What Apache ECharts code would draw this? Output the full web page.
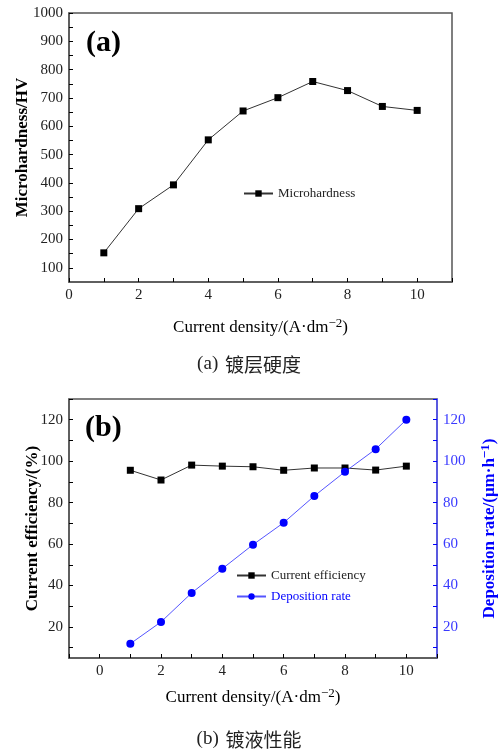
<!DOCTYPE html>
<html>
<head>
<meta charset="utf-8">
<script src="https://cdn.jsdelivr.net/npm/echarts@6/dist/echarts.min.js"></script>
<style>
html,body{margin:0;padding:0;background:#fff;}
#chart{width:498px;height:753px;}
</style>
</head>
<body>
<div id="chart"></div>
<script>
// ---- data ----
const currentDensity = [1, 2, 3, 4, 5, 6, 7, 8, 9, 10];
const microhardness = [153, 309, 393, 552, 654, 701, 758, 726, 670, 656];
const currentEfficiency = [95.6, 90.9, 98.1, 97.6, 97.3, 95.6, 96.7, 96.7, 95.7, 97.6];
const depositionRate = [11.9, 22.4, 36.4, 48.1, 59.7, 70.3, 83.2, 94.9, 105.8, 120];

const xTicksA = [0, 1, 2, 3, 4, 5, 6, 7, 8, 9, 10, 11];
const xLabelsA = [0, 2, 4, 6, 8, 10];
const yTicksA = [100, 150, 200, 250, 300, 350, 400, 450, 500, 550, 600, 650, 700, 750, 800, 850, 900, 950, 1000];
const yLabelsA = [100, 200, 300, 400, 500, 600, 700, 800, 900, 1000];
const xTicksB = [-1, 0, 1, 2, 3, 4, 5, 6, 7, 8, 9, 10, 11];
const xLabelsB = [0, 2, 4, 6, 8, 10];
const yTicksB = [10, 20, 30, 40, 50, 60, 70, 80, 90, 100, 110, 120, 130];
const yLabelsB = [20, 40, 60, 80, 100, 120];

const SERIF = '"Times New Roman","Liberation Serif","DejaVu Serif",serif';
const CJK = '"Noto Sans CJK SC",sans-serif';
const AX = '#555555';
const BLUE = '#0000ff';
const BLUE_T = '#3a3aff';

const chart = echarts.init(document.getElementById('chart'), null, {renderer: 'canvas'});

function pairs(xs, ys) { return xs.map((x, i) => [x, ys[i]]); }
const plain = v => String(v);

function supRich(color, weight) {
  return {
    sup: {fontFamily: SERIF, fontSize: 13, fontWeight: weight || 'normal', color: color, verticalAlign: 'top', lineHeight: 22, padding: [0, 0, 6, 0]}
  };
}

const option = {
  animation: false,
  backgroundColor: '#fff',
  grid: [
    {left: 69, top: 13, width: 383, height: 269, containLabel: false, outerBoundsMode: 'none',
      show: true, borderColor: AX, borderWidth: 1.5, backgroundColor: 'transparent'},
    {left: 69, top: 399, width: 368, height: 259, containLabel: false, outerBoundsMode: 'none',
      show: true, borderColor: AX, borderWidth: 1.5, backgroundColor: 'transparent'}
  ],
  xAxis: [
    {
      type: 'value', gridIndex: 0, min: 0, max: 11,
      axisLine: {show: true, onZero: false, lineStyle: {color: AX, width: 1.5}},
      axisTick: {show: true, inside: true, length: 4, customValues: xTicksA, lineStyle: {color: '#000'}},
      axisLabel: {customValues: xLabelsA, formatter: plain, fontFamily: SERIF, fontSize: 15, color: '#222', margin: 6},
      splitLine: {show: false},
      name: 'Current density/(A·dm{sup|−2})',
      nameLocation: 'middle', nameGap: 35,
      nameTextStyle: {fontFamily: SERIF, fontSize: 17, color: '#000', rich: supRich('#000')}
    },
    {
      type: 'value', gridIndex: 1, min: -1, max: 11,
      axisLine: {show: true, onZero: false, lineStyle: {color: AX, width: 1.5}},
      axisTick: {show: true, inside: true, length: 4, customValues: xTicksB, lineStyle: {color: '#000'}},
      axisLabel: {customValues: xLabelsB, formatter: plain, fontFamily: SERIF, fontSize: 15, color: '#222', margin: 6},
      splitLine: {show: false},
      name: 'Current density/(A·dm{sup|−2})',
      nameLocation: 'middle', nameGap: 29,
      nameTextStyle: {fontFamily: SERIF, fontSize: 17, color: '#000', rich: supRich('#000')}
    }
  ],
  yAxis: [
    {
      type: 'value', gridIndex: 0, min: 50, max: 1000,
      axisLine: {show: true, onZero: false, lineStyle: {color: AX, width: 1.5}},
      axisTick: {show: true, inside: true, length: 4, customValues: yTicksA, lineStyle: {color: '#000'}},
      axisLabel: {customValues: yLabelsA, formatter: plain, fontFamily: SERIF, fontSize: 15, color: '#222', margin: 6},
      splitLine: {show: false},
      name: 'Microhardness/HV',
      nameLocation: 'middle', nameGap: 38, nameMoveOverlap: false,
      nameTextStyle: {fontFamily: SERIF, fontSize: 17, fontWeight: 'bold', color: '#000'}
    },
    {
      type: 'value', gridIndex: 1, min: 5, max: 130, position: 'left',
      axisLine: {show: true, onZero: false, lineStyle: {color: AX, width: 1.5}},
      axisTick: {show: true, inside: true, length: 4, customValues: yTicksB, lineStyle: {color: '#000'}},
      axisLabel: {customValues: yLabelsB, formatter: plain, fontFamily: SERIF, fontSize: 15, color: '#222', margin: 6},
      splitLine: {show: false},
      name: 'Current efficiency/(%)',
      nameLocation: 'middle', nameGap: 28, nameMoveOverlap: false,
      nameTextStyle: {fontFamily: SERIF, fontSize: 17, fontWeight: 'bold', color: '#000'}
    },
    {
      type: 'value', gridIndex: 1, min: 5, max: 130, position: 'right',
      axisLine: {show: true, onZero: false, lineStyle: {color: '#4d4dff', width: 1.5}},
      axisTick: {show: true, inside: true, length: 4, customValues: yTicksB, lineStyle: {color: BLUE}},
      axisLabel: {customValues: yLabelsB, formatter: plain, fontFamily: SERIF, fontSize: 15, color: BLUE_T, margin: 6},
      splitLine: {show: false},
      name: 'Deposition rate/(μm·h{sup|−1})',
      nameLocation: 'middle', nameGap: 42, nameMoveOverlap: false,
      nameTextStyle: {fontFamily: SERIF, fontSize: 17, fontWeight: 'bold', color: BLUE, rich: supRich(BLUE, 'bold')}
    }
  ],
  legend: [
    {
      left: 238, top: 182, itemWidth: 29, itemHeight: 8, itemGap: 10,
      data: ['Microhardness'],
      textStyle: {fontFamily: SERIF, fontSize: 13, color: '#222'}
    },
    {
      left: 231, top: 564, orient: 'vertical', itemWidth: 29, itemHeight: 8, itemGap: 8,
      data: [
        {name: 'Current efficiency', textStyle: {color: '#222'}},
        {name: 'Deposition rate', textStyle: {color: BLUE}}
      ],
      textStyle: {fontFamily: SERIF, fontSize: 13}
    }
  ],
  series: [
    {
      name: 'Microhardness', type: 'line', xAxisIndex: 0, yAxisIndex: 0,
      data: pairs(currentDensity, microhardness),
      symbol: 'rect', symbolSize: 7,
      itemStyle: {color: '#000'}, lineStyle: {color: '#333', width: 1}
    },
    {
      name: 'Current efficiency', type: 'line', xAxisIndex: 1, yAxisIndex: 1,
      data: pairs(currentDensity, currentEfficiency),
      symbol: 'rect', symbolSize: 7,
      itemStyle: {color: '#000'}, lineStyle: {color: '#333', width: 1}
    },
    {
      name: 'Deposition rate', type: 'line', xAxisIndex: 1, yAxisIndex: 2,
      data: pairs(currentDensity, depositionRate),
      symbol: 'circle', symbolSize: 8,
      itemStyle: {color: BLUE}, lineStyle: {color: '#5555ff', width: 1}
    }
  ],
  graphic: [
    {type: 'text', left: 86, top: 28, style: {text: '(a)', font: 'bold 30px ' + SERIF, fill: '#000'}},
    {type: 'text', left: 85, top: 413, style: {text: '(b)', font: 'bold 30px ' + SERIF, fill: '#000'}},
    {type: 'text', left: 'center', top: 355, style: {text: '{s|(a)}  {c|镀层硬度}', fill: '#222',
      rich: {s: {fontFamily: SERIF, fontSize: 19, fill: '#222'}, c: {fontFamily: CJK, fontSize: 19, fill: '#222'}}}},
    {type: 'text', left: 'center', top: 730, style: {text: '{s|(b)}  {c|镀液性能}', fill: '#222',
      rich: {s: {fontFamily: SERIF, fontSize: 19, fill: '#222'}, c: {fontFamily: CJK, fontSize: 19, fill: '#222'}}}}
  ]
};
chart.setOption(option);
</script>
</body>
</html>
